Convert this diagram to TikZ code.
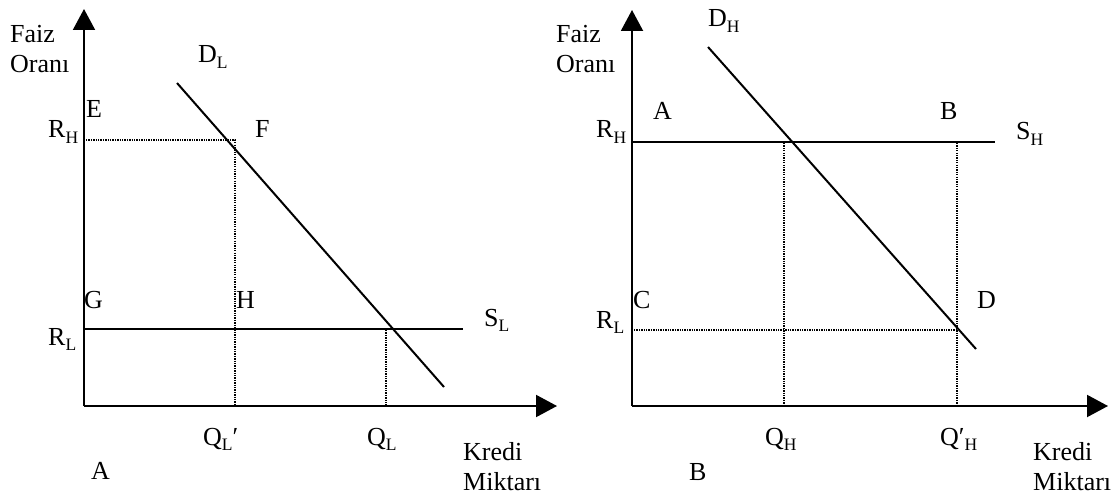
\documentclass[tikz,border=0pt]{standalone}
\usepackage{fontspec}
\setmainfont{Liberation Serif}
\usetikzlibrary{arrows.meta}
\newcommand{\sbs}[1]{\raisebox{-0.22em}{\fontsize{17.5}{17.5}\selectfont #1}}
\tikzset{
  axis/.style={line width=2pt,-{Triangle[length=21pt,width=22pt]}},
  curve/.style={line width=2pt},
  guide/.style={line width=1.5pt,dash pattern=on 1.3pt off 1.1pt},
  lbl/.style={anchor=base west,inner sep=0pt,font=\fontsize{26}{26}\selectfont}
}
\begin{document}
\begin{tikzpicture}[x=1pt,y=-1pt]
\useasboundingbox (0,0) rectangle (1115,497);
% ---------- Panel A ----------
\coordinate (O1) at (84,406);
\coordinate (Y1) at (84,9);
\coordinate (X1) at (557,406);
\draw[axis] (O1) -- (Y1);
\draw[axis] (O1) -- (X1);
\coordinate (rh1a) at (86,140);
\coordinate (rh1b) at (235,140);
\coordinate (ql1b) at (235,405);
\draw[guide] (rh1a) -- (rh1b) -- (ql1b);
\coordinate (sl1a) at (84,329);
\coordinate (sl1b) at (463,329);
\draw[curve] (sl1a) -- (sl1b);
\coordinate (dl1a) at (177,83);
\coordinate (dl1b) at (444,387);
\draw[curve] (dl1a) -- (dl1b);
\coordinate (ql2a) at (386,330);
\coordinate (ql2b) at (386,405);
\draw[guide] (ql2a) -- (ql2b);
\node[lbl] (faizA) at (10,43) {Faiz};
\node[lbl] (oraniA) at (10,73) {Oranı};
\node[lbl] (DL) at (198,63) {D\sbs{L}};
\node[lbl] (E) at (86,118) {E};
\node[lbl] (RHA) at (48,138) {R\sbs{H}};
\node[lbl] (F) at (255,138) {F};
\node[lbl] (G) at (84,308) {G};
\node[lbl] (H) at (236,308) {H};
\node[lbl] (RLA) at (48,345) {R\sbs{L}};
\node[lbl] (SL) at (484,326) {S\sbs{L}};
\node[lbl] (QLp) at (203,445) {Q\sbs{L}′};
\node[lbl] (QL) at (367,445) {Q\sbs{L}};
\node[lbl] (panA) at (91,479) {A};
\node[lbl] (krediA) at (463,460) {Kredi};
\node[lbl] (miktA) at (463,490) {Miktarı};
% ---------- Panel B ----------
\coordinate (O2) at (632,406);
\coordinate (Y2) at (632,10);
\coordinate (X2) at (1108,406);
\draw[axis] (O2) -- (Y2);
\draw[axis] (O2) -- (X2);
\coordinate (sh1a) at (632,142);
\coordinate (sh1b) at (995,142);
\draw[curve] (sh1a) -- (sh1b);
\coordinate (dh1a) at (708,47);
\coordinate (dh1b) at (976,349);
\draw[curve] (dh1a) -- (dh1b);
\coordinate (qh1a) at (784,143);
\coordinate (qh1b) at (784,405);
\draw[guide] (qh1a) -- (qh1b);
\coordinate (qh2a) at (957,143);
\coordinate (qh2b) at (957,405);
\draw[guide] (qh2a) -- (qh2b);
\coordinate (rl2a) at (634,330);
\coordinate (rl2b) at (957,330);
\draw[guide] (rl2a) -- (rl2b);
\node[lbl] (faizB) at (556,43) {Faiz};
\node[lbl] (oraniB) at (556,73) {Oranı};
\node[lbl] (DH) at (708,27) {D\sbs{H}};
\node[lbl] (Apt) at (653,120) {A};
\node[lbl] (RHB) at (596,138) {R\sbs{H}};
\node[lbl] (Bpt) at (940,120) {B};
\node[lbl] (SH) at (1016,140) {S\sbs{H}};
\node[lbl] (Cpt) at (633,308) {C};
\node[lbl] (RLB) at (596,328) {R\sbs{L}};
\node[lbl] (Dpt) at (977,308) {D};
\node[lbl] (QH) at (765,445) {Q\sbs{H}};
\node[lbl] (QHp) at (940,445) {Q′\sbs{H}};
\node[lbl] (panB) at (689,480) {B};
\node[lbl] (krediB) at (1033,460) {Kredi};
\node[lbl] (miktB) at (1033,490) {Miktarı};
\end{tikzpicture}
\end{document}
